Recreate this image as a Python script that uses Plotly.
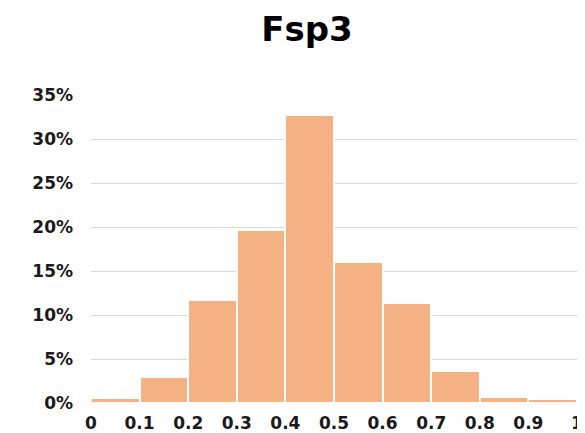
import plotly.graph_objects as go

# Data: share of compounds per Fsp3 bin
bin_starts = [0.0, 0.1, 0.2, 0.3, 0.4, 0.5, 0.6, 0.7, 0.8, 0.9]
bin_width = 0.1
share = [0.0055, 0.030, 0.117, 0.197, 0.327, 0.160, 0.114, 0.036, 0.0065, 0.004]
x_ticks = [0, 0.1, 0.2, 0.3, 0.4, 0.5, 0.6, 0.7, 0.8, 0.9, 1]
x_labels = ["0", "0.1", "0.2", "0.3", "0.4", "0.5", "0.6", "0.7", "0.8", "0.9", "1"]

FONT = "DejaVu Sans"
BAR = "#F4B183"

# the page body keeps its default 8px margin, so the figure is sized to fit
W, H = 577, 425

fig = go.Figure()
fig.add_trace(
    go.Bar(
        x=[s + bin_width / 2 for s in bin_starts],
        y=share,
        width=[bin_width] * len(bin_starts),
        marker=dict(color=BAR, line=dict(color="#ffffff", width=2)),
        showlegend=False,
        hovertemplate="%{x}: %{y:.1%}<extra></extra>",
    )
)

fig.update_layout(
    width=W,
    height=H,
    margin=dict(l=83, r=8, t=87, b=30),
    paper_bgcolor="#ffffff",
    plot_bgcolor="#ffffff",
    font=dict(family=FONT, size=17, color="#1a1a1a"),
    title=dict(
        text="<b>Fsp3</b>",
        x=299 / W,
        xanchor="center",
        y=1 - 21 / H,
        yanchor="middle",
        font=dict(family=FONT, size=34, color="#000000"),
    ),
    bargap=0,
    xaxis=dict(
        range=[0, 1],
        tickvals=x_ticks,
        ticktext=[f"<b>{t}</b>" for t in x_labels],
        showgrid=False,
        zeroline=False,
        showline=False,
        ticks="",
        ticklabelstandoff=8,
        automargin=False,
        fixedrange=True,
    ),
    yaxis=dict(
        range=[0, 0.3502],
        tickvals=[0, 0.05, 0.10, 0.15, 0.20, 0.25, 0.30, 0.35],
        ticktext=[f"<b>{v}%</b>" for v in [0, 5, 10, 15, 20, 25, 30, 35]],
        showgrid=True,
        gridcolor="#d9d9d9",
        gridwidth=1,
        zeroline=False,
        showline=False,
        ticks="",
        ticklabelstandoff=17,
        automargin=False,
        fixedrange=True,
    ),
)

fig.write_html("out.html")
